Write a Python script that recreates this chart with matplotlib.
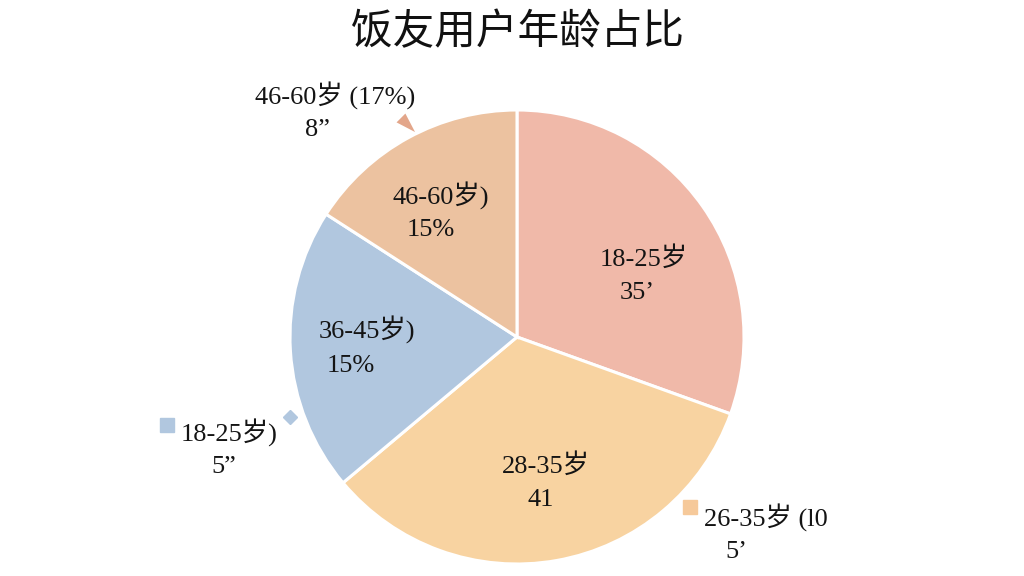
import matplotlib.pyplot as plt

# slice data and the printed labels
groups = ["18-25岁", "28-35岁", "36-45岁)", "46-60岁)"]
shares = [30.5, 33.4, 20.2, 15.9]
inner_values = ["35’", "41", "15%", "15%"]
colors = ["#F0B9A9", "#F8D3A1", "#B1C7DF", "#ECC2A0"]

outer_groups = ["46-60岁 (17%)", "18-25岁)", "26-35岁 (l0"]
outer_values = ["8”", "5”", "5’"]

serif = ["Liberation Serif", "Noto Sans CJK SC"]
ink = "#141414"

fig = plt.figure(figsize=(10.24, 5.76), dpi=100)
cx, cy, r = 517, 337, 227
ax = fig.add_axes([(cx - r) / 1024, (576 - cy - r) / 576, 2 * r / 1024, 2 * r / 576])


def px(x, y):
    # pixel position -> data coords of the pie axes
    return (x - cx) / r, (cy - y) / r


ax.pie(shares, colors=colors, startangle=90, counterclock=False, radius=1,
       wedgeprops=dict(edgecolor="white", linewidth=2.2))
ax.set_xlim(-1, 1)
ax.set_ylim(-1, 1)
ax.set_aspect("equal")
ax.axis("off")

# labels inside the wedges
inner_pos = [(644, 258, 637, 293), (546, 465, 541, 500),
             (367, 330, 351, 366), (441, 196, 431, 230)]
for g, v, (x1, y1, x2, y2) in zip(groups, inner_values, inner_pos):
    ax.text(*px(x1, y1), g, ha="center", va="center", fontsize=19, family=serif, color=ink)
    ax.text(*px(x2, y2), v, ha="center", va="center", fontsize=19, family=serif, color=ink)

# labels outside
ax.text(*px(255, 96), outer_groups[0], ha="left", va="center", fontsize=19, family=serif, color=ink)
ax.text(*px(305, 130), outer_values[0], ha="left", va="center", fontsize=19, family=serif, color=ink)
ax.annotate("", xy=px(417, 134), xytext=px(399, 116),
            arrowprops=dict(arrowstyle="wedge,tail_width=0.9", color="#E3A68A", lw=0))

ax.plot(*px(167, 425), marker="s", markersize=10, color=colors[2], clip_on=False)
ax.plot(*px(290, 417), marker="D", markersize=7, color=colors[2], clip_on=False)
ax.text(*px(181, 433), outer_groups[1], ha="left", va="center", fontsize=19, family=serif, color=ink)
ax.text(*px(211, 467), outer_values[1], ha="left", va="center", fontsize=19, family=serif, color=ink)

ax.plot(*px(690, 507), marker="s", markersize=10, color="#F6C99A", clip_on=False)
ax.text(*px(704, 518), outer_groups[2], ha="left", va="center", fontsize=19, family=serif, color=ink)
ax.text(*px(725, 552), outer_values[2], ha="left", va="center", fontsize=19, family=serif, color=ink)

fig.text(517 / 1024, 1 - 33 / 576, "饭友用户年龄占比", ha="center", va="center",
         fontsize=30, family="Noto Sans CJK SC", color="#111111")

fig.savefig("out.png", dpi=100, facecolor="white")
